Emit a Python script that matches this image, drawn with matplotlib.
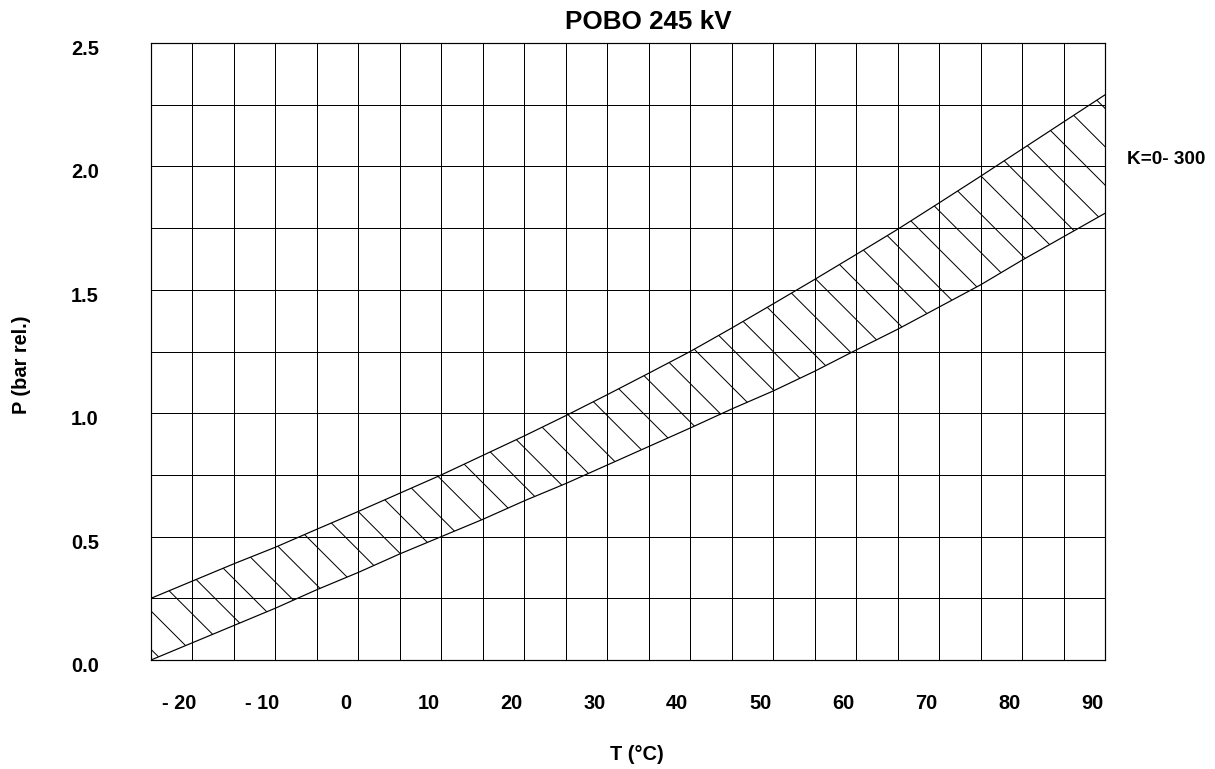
import numpy as np
import matplotlib
matplotlib.use('Agg')
import matplotlib.pyplot as plt
import matplotlib.transforms as mtrans

W, H, DPI = 1215, 769, 115


def px(v):
    # pixels -> points at the figure dpi
    return v * 72 / DPI


plt.rcParams['font.family'] = ['Liberation Sans', 'DejaVu Sans']
plt.rcParams['font.weight'] = 'bold'
plt.rcParams['hatch.linewidth'] = px(1)

# temperature (C) and pressure band (bar rel.)
temps = [-25, -20, -15, -10, -5, 0, 5, 10, 15, 20, 25, 30,
         35, 40, 45, 50, 55, 60, 65, 70, 75, 80, 85, 90]
p_low = [0.00, 0.07, 0.14, 0.21, 0.285, 0.355, 0.43, 0.50, 0.57, 0.645, 0.715, 0.79,
         0.865, 0.94, 1.017, 1.09, 1.17, 1.256, 1.34, 1.43, 1.52, 1.62, 1.715, 1.81]
p_high = [0.25, 0.32, 0.39, 0.457, 0.53, 0.602, 0.676, 0.75, 0.829, 0.908, 0.99, 1.075,
          1.162, 1.25, 1.345, 1.443, 1.542, 1.643, 1.745, 1.852, 1.96, 2.07, 2.18, 2.29]

x_ticks = [-20, -10, 0, 10, 20, 30, 40, 50, 60, 70, 80, 90]
x_labels = ['- 20', '- 10', '0', '10', '20', '30', '40', '50', '60', '70', '80', '90']
y_ticks = [0.0, 0.5, 1.0, 1.5, 2.0, 2.5]
y_labels = ['0.0', '0.5', '1.0', '1.5', '2.0', '2.5']

fig = plt.figure(figsize=(W / DPI, H / DPI), dpi=DPI)
ax = fig.add_axes([151 / W, 109 / H, 954 / W, 617 / H])

ax.fill_between(temps, p_low, p_high, facecolor='none', edgecolor='black',
                hatch='\\', linewidth=0)
ax.plot(temps, p_low, color='black', lw=px(1.2))
ax.plot(temps, p_high, color='black', lw=px(1.2))

ax.set_xlim(-25, 90)
ax.set_ylim(0, 2.5)
ax.set_xticks(x_ticks)
ax.set_xticklabels(x_labels, fontsize=px(20))
ax.set_xticks(np.arange(-25, 91, 5), minor=True)
ax.set_yticks(y_ticks)
ax.set_yticklabels(y_labels, fontsize=px(20))
ax.set_yticks(np.arange(0, 2.51, 0.25), minor=True)
ax.grid(which='both', color='black', lw=px(1))
ax.set_axisbelow(True)
ax.tick_params(which='both', length=0)
ax.tick_params(axis='x', pad=px(34))
ax.tick_params(axis='y', pad=px(52))
for s in ax.spines.values():
    s.set_linewidth(px(1.2))

shift_x = mtrans.ScaledTranslation(-13 / DPI, 0, fig.dpi_scale_trans)
for lbl in ax.get_xticklabels():
    lbl.set_transform(lbl.get_transform() + shift_x)
shift_y = mtrans.ScaledTranslation(0, -4.5 / DPI, fig.dpi_scale_trans)
for lbl in ax.get_yticklabels():
    lbl.set_transform(lbl.get_transform() + shift_y)

fig.text(648 / W, 1 - 22 / H, 'POBO 245 kV', fontsize=px(26), ha='center', va='center')
fig.text(22 / W, 1 - 365 / H, 'P (bar rel.)', fontsize=px(20), rotation=90,
         ha='center', va='center')
fig.text(637 / W, 1 - 754 / H, 'T (°C)', fontsize=px(20), ha='center', va='center')
fig.text(1127 / W, 1 - 160 / H, 'K=0- 300', fontsize=px(19), ha='left', va='center')

fig.savefig('out.png', dpi=DPI)
